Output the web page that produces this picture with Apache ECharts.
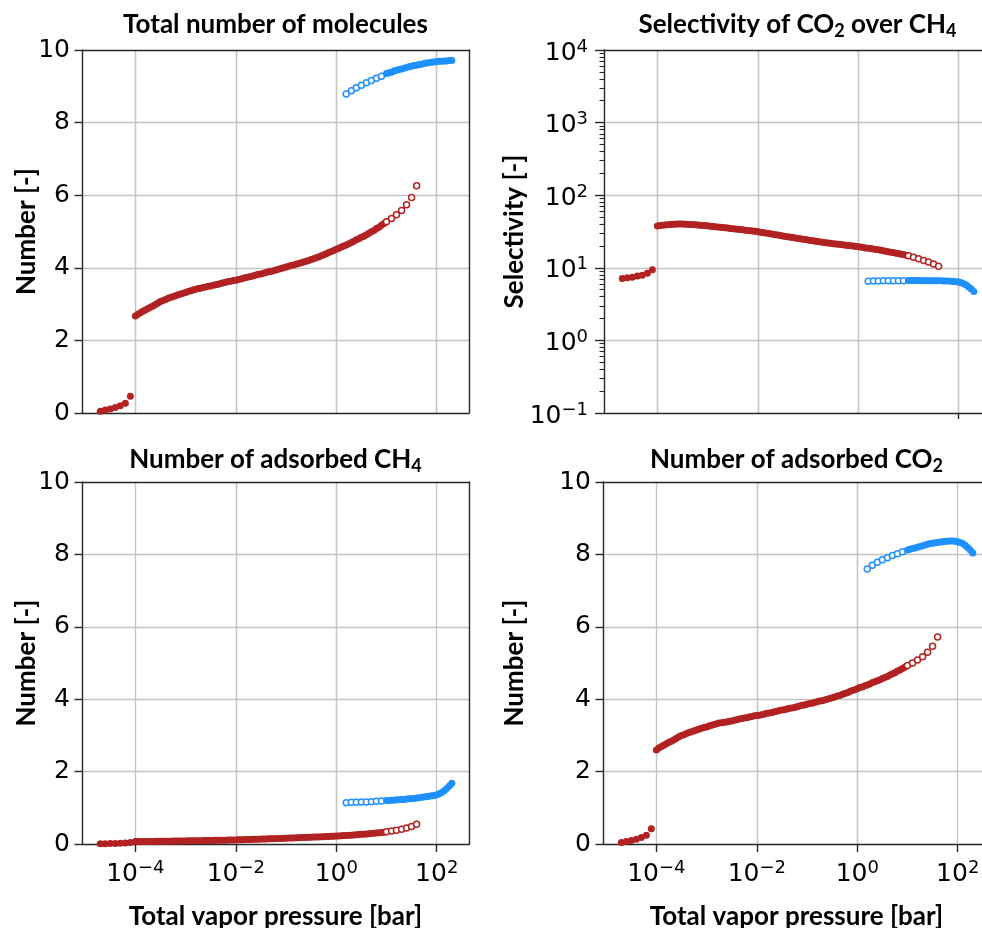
<!DOCTYPE html>
<html>
<head>
<meta charset="utf-8">
<script src="https://cdn.jsdelivr.net/npm/echarts@6/dist/echarts.min.js"></script>
<style>
  html, body { margin: 0; padding: 0; background: #fff; }
  #chart { width: 982px; height: 928px; }
</style>
</head>
<body>
<div id="chart"></div>
<script>
// ---------------- data ----------------
// Red branch: total vapor pressure [bar]
const redPressure = [
  2.00e-5, 2.51e-5, 3.16e-5, 3.98e-5, 5.01e-5, 6.31e-5, 7.94e-5,
  1.00e-4, 1.12e-4, 1.26e-4, 1.41e-4, 1.58e-4, 1.78e-4, 2.00e-4, 2.24e-4, 2.51e-4, 2.82e-4,
  3.16e-4, 3.55e-4, 3.98e-4, 4.47e-4, 5.01e-4, 5.62e-4, 6.31e-4, 7.08e-4, 7.94e-4, 8.91e-4,
  1.00e-3, 1.12e-3, 1.26e-3, 1.41e-3, 1.58e-3, 1.78e-3, 2.00e-3, 2.24e-3, 2.51e-3, 2.82e-3,
  3.16e-3, 3.55e-3, 3.98e-3, 4.47e-3, 5.01e-3, 5.62e-3, 6.31e-3, 7.08e-3, 7.94e-3, 8.91e-3,
  1.00e-2, 1.12e-2, 1.26e-2, 1.41e-2, 1.58e-2, 1.78e-2, 2.00e-2, 2.24e-2, 2.51e-2, 2.82e-2,
  3.16e-2, 3.55e-2, 3.98e-2, 4.47e-2, 5.01e-2, 5.62e-2, 6.31e-2, 7.08e-2, 7.94e-2, 8.91e-2,
  0.100, 0.112, 0.126, 0.141, 0.158, 0.178, 0.200, 0.224, 0.251, 0.282,
  0.316, 0.355, 0.398, 0.447, 0.501, 0.562, 0.631, 0.708, 0.794, 0.891,
  1.00, 1.12, 1.26, 1.41, 1.58, 1.78, 2.00, 2.24, 2.51, 2.82,
  3.16, 3.55, 3.98, 4.47, 5.01, 5.62, 6.31, 7.08, 7.94, 8.91,
  10.0, 12.6, 15.8, 20.0, 25.1, 31.6, 39.8
];
// red points from this index on are drawn as open circles
const redOpenFrom = 107;

const redTotal = [
  0.05, 0.08, 0.11, 0.15, 0.20, 0.27, 0.46,
  2.67, 2.72, 2.76, 2.80, 2.84, 2.88, 2.91, 2.95, 2.99, 3.03,
  3.07, 3.10, 3.13, 3.16, 3.18, 3.21, 3.23, 3.26, 3.28, 3.30,
  3.32, 3.35, 3.37, 3.39, 3.41, 3.43, 3.44, 3.46, 3.47, 3.49,
  3.50, 3.52, 3.53, 3.55, 3.57, 3.59, 3.60, 3.62, 3.63, 3.65,
  3.66, 3.68, 3.69, 3.71, 3.73, 3.75, 3.76, 3.78, 3.80, 3.82,
  3.83, 3.85, 3.87, 3.89, 3.90, 3.92, 3.94, 3.96, 3.98, 4.00,
  4.02, 4.04, 4.06, 4.08, 4.10, 4.12, 4.14, 4.16, 4.18, 4.20,
  4.23, 4.25, 4.28, 4.30, 4.33, 4.36, 4.39, 4.42, 4.45, 4.48,
  4.51, 4.54, 4.57, 4.60, 4.63, 4.66, 4.70, 4.73, 4.77, 4.80,
  4.84, 4.87, 4.91, 4.95, 4.99, 5.03, 5.08, 5.12, 5.17, 5.22,
  5.27, 5.36, 5.46, 5.58, 5.74, 5.94, 6.26
];
const redSelectivity = [
  7.1, 7.3, 7.4, 7.7, 7.9, 8.4, 9.4,
  37.6, 38.1, 38.5, 38.9, 39.3, 39.5, 39.7, 39.9, 40.0, 40.0,
  40.0, 39.9, 39.8, 39.6, 39.4, 39.2, 38.9, 38.7, 38.4, 38.1,
  37.8, 37.5, 37.2, 36.9, 36.6, 36.3, 35.9, 35.6, 35.2, 34.9,
  34.6, 34.3, 34.0, 33.6, 33.3, 33.0, 32.7, 32.4, 32.1, 31.8,
  31.5, 31.0, 30.6, 30.2, 29.8, 29.4, 29.0, 28.6, 28.2, 27.8,
  27.4, 27.0, 26.7, 26.4, 26.1, 25.7, 25.4, 25.1, 24.8, 24.5,
  24.2, 23.8, 23.5, 23.2, 23.0, 22.7, 22.4, 22.2, 22.0, 21.7,
  21.5, 21.3, 21.1, 20.9, 20.7, 20.5, 20.3, 20.1, 19.9, 19.7,
  19.5, 19.3, 19.1, 18.8, 18.6, 18.4, 18.2, 17.9, 17.7, 17.4,
  17.2, 16.9, 16.7, 16.4, 16.2, 15.9, 15.7, 15.4, 15.2, 14.9,
  14.6, 14.0, 13.3, 12.6, 12.0, 11.3, 10.5
];
const redCO2 = [
  0.04, 0.07, 0.10, 0.13, 0.18, 0.24, 0.42,
  2.60, 2.65, 2.69, 2.73, 2.77, 2.81, 2.84, 2.88, 2.92, 2.96,
  3.00, 3.02, 3.05, 3.08, 3.10, 3.13, 3.15, 3.18, 3.20, 3.22,
  3.23, 3.26, 3.28, 3.30, 3.32, 3.34, 3.35, 3.36, 3.37, 3.39,
  3.40, 3.42, 3.43, 3.45, 3.47, 3.48, 3.49, 3.51, 3.52, 3.54,
  3.55, 3.56, 3.57, 3.59, 3.61, 3.62, 3.63, 3.65, 3.67, 3.69,
  3.70, 3.71, 3.73, 3.75, 3.76, 3.77, 3.79, 3.81, 3.83, 3.84,
  3.86, 3.88, 3.89, 3.91, 3.93, 3.95, 3.96, 3.98, 4.00, 4.02,
  4.04, 4.06, 4.09, 4.10, 4.13, 4.16, 4.18, 4.21, 4.24, 4.26,
  4.29, 4.32, 4.34, 4.37, 4.39, 4.42, 4.46, 4.48, 4.51, 4.54,
  4.57, 4.60, 4.63, 4.67, 4.70, 4.73, 4.78, 4.81, 4.85, 4.89,
  4.93, 5.00, 5.08, 5.17, 5.30, 5.46, 5.72
];
const redCH4 = [
  0.006, 0.010, 0.013, 0.017, 0.023, 0.029, 0.044,
  0.069, 0.070, 0.070, 0.070, 0.071, 0.071, 0.072, 0.072, 0.073, 0.074,
  0.075, 0.076, 0.077, 0.078, 0.079, 0.080, 0.081, 0.082, 0.083, 0.084,
  0.086, 0.087, 0.088, 0.089, 0.091, 0.092, 0.093, 0.095, 0.096, 0.097,
  0.098, 0.100, 0.101, 0.103, 0.104, 0.106, 0.107, 0.108, 0.110, 0.111,
  0.113, 0.115, 0.117, 0.119, 0.121, 0.123, 0.125, 0.128, 0.130, 0.133,
  0.135, 0.138, 0.140, 0.142, 0.144, 0.147, 0.149, 0.152, 0.154, 0.157,
  0.160, 0.163, 0.166, 0.169, 0.171, 0.174, 0.177, 0.179, 0.182, 0.185,
  0.188, 0.191, 0.194, 0.196, 0.200, 0.203, 0.206, 0.210, 0.213, 0.216,
  0.220, 0.224, 0.227, 0.232, 0.236, 0.240, 0.245, 0.250, 0.255, 0.261,
  0.266, 0.272, 0.277, 0.285, 0.290, 0.298, 0.304, 0.312, 0.319, 0.328,
  0.338, 0.357, 0.382, 0.410, 0.442, 0.483, 0.544
];

// Blue branch: total vapor pressure [bar]
const bluePressure = [
  1.58, 2.00, 2.51, 3.16, 3.98, 5.01, 6.31, 7.94,
  10.0, 11.2, 12.6, 14.1, 15.8, 17.8, 20.0, 22.4, 25.1, 28.2,
  31.6, 35.5, 39.8, 44.7, 50.1, 56.2, 63.1, 70.8, 79.4, 89.1,
  100, 112, 126, 141, 158, 178, 200
];
// blue points before this index are drawn as open circles
const blueFilledFrom = 8;

const blueTotal = [
  8.79, 8.88, 8.96, 9.03, 9.10, 9.16, 9.22, 9.28,
  9.35, 9.37, 9.39, 9.42, 9.44, 9.46, 9.48, 9.50, 9.52, 9.54,
  9.55, 9.57, 9.58, 9.60, 9.61, 9.63, 9.64, 9.65, 9.66, 9.67,
  9.68, 9.69, 9.69, 9.70, 9.70, 9.71, 9.71
];
const blueSelectivity = [
  6.55, 6.58, 6.60, 6.62, 6.63, 6.64, 6.65, 6.65,
  6.66, 6.66, 6.66, 6.66, 6.66, 6.65, 6.65, 6.65, 6.65, 6.64,
  6.64, 6.63, 6.62, 6.61, 6.60, 6.58, 6.56, 6.53, 6.50, 6.44,
  6.35, 6.22, 6.05, 5.80, 5.45, 5.10, 4.70
];
const blueCO2 = [
  7.60, 7.70, 7.78, 7.85, 7.91, 7.97, 8.02, 8.07,
  8.12, 8.14, 8.16, 8.18, 8.20, 8.22, 8.24, 8.26, 8.28, 8.30,
  8.31, 8.32, 8.33, 8.34, 8.35, 8.36, 8.36, 8.37, 8.37, 8.36,
  8.35, 8.33, 8.30, 8.25, 8.19, 8.12, 8.04
];
const blueCH4 = [
  1.14, 1.15, 1.15, 1.16, 1.16, 1.17, 1.18, 1.19,
  1.20, 1.20, 1.21, 1.21, 1.22, 1.22, 1.23, 1.23, 1.24, 1.25,
  1.26, 1.26, 1.27, 1.28, 1.29, 1.30, 1.31, 1.32, 1.33, 1.34,
  1.36, 1.39, 1.42, 1.47, 1.53, 1.60, 1.68
];

// axis ticks
const pressureTickExponents = [-4, -2, 0, 2];
const selectivityBottomTick = [2];
const numberRange = [0, 10];
const selectivityRange = [0.1, 1e4];
const minorMantissas = [2, 3, 4, 5, 6, 7, 8, 9];

// ---------------- styling ----------------
const RED = '#b22222';
const BLUE = '#1e90ff';
const INK = '#000';
const SPINE = { color: '#262626', width: 1.4 };
const GRIDLINE = { color: '#c4c4c4', width: 1.3 };
const TICK_FONT = 'DejaVu Sans';
const TITLE_FONT = 'Lato';
// log10 of the pressure range shown on every x axis
const X_EXTENT = [-5.063, 2.643];

const grids = [
  { left: 82, top: 50, width: 387, height: 363 },
  { left: 604, top: 50, width: 387, height: 363 },
  { left: 82, top: 482, width: 387, height: 362 },
  { left: 603, top: 482, width: 387, height: 362 }
];

const supRich = {
  b: { fontFamily: TICK_FONT, fontSize: 25, color: INK, lineHeight: 30 },
  s: { fontFamily: TICK_FONT, fontSize: 18, color: INK, lineHeight: 16, verticalAlign: 'top' }
};
function powerLabel(exp) {
  const e = Math.round(exp);
  return '{b|10}{s|' + (e < 0 ? '\u2212' + (-e) : String(e)) + '}';
}

const nameStyle = { fontFamily: TITLE_FONT, fontWeight: 'bold', fontSize: 26, color: INK };

// ---------------- axes ----------------
const xAxes = [];
const yAxes = [];

function pressureAxis(gi, withLabels) {
  return {
    type: 'value', gridIndex: gi, position: 'bottom',
    min: X_EXTENT[0], max: X_EXTENT[1],
    axisLine: { show: true, onZero: false, lineStyle: SPINE },
    axisTick: withLabels
      ? { show: true, customValues: pressureTickExponents, length: 8, lineStyle: SPINE }
      : { show: false },
    axisLabel: withLabels ? {
      show: true, customValues: pressureTickExponents, formatter: powerLabel, rich: supRich, margin: 15
    } : { show: false },
    splitLine: { show: true, showMinLine: false, showMaxLine: false, lineStyle: GRIDLINE },
    name: withLabels ? 'Total vapor pressure [bar]' : '',
    nameLocation: 'middle', nameGap: 60, nameMoveOverlap: false, nameTextStyle: nameStyle,
    z: 0
  };
}
// top frame line; also carries the vertical grid lines
function spineX(gi) {
  return {
    type: 'value', gridIndex: gi, position: 'top',
    min: X_EXTENT[0], max: X_EXTENT[1],
    axisLine: { show: true, onZero: false, lineStyle: SPINE },
    axisTick: { show: false }, axisLabel: { show: false },
    splitLine: { show: true, showMinLine: false, showMaxLine: false, lineStyle: GRIDLINE },
    z: 0
  };
}
function spineY(gi) {
  return {
    type: 'value', gridIndex: gi, position: 'right', min: 0, max: 1,
    axisLine: { show: true, onZero: false, lineStyle: SPINE },
    axisTick: { show: false }, axisLabel: { show: false }, splitLine: { show: false }, z: 3
  };
}
function numberAxis(gi, nameGap) {
  return {
    type: 'value', gridIndex: gi, position: 'left',
    min: numberRange[0], max: numberRange[1], interval: 2,
    name: 'Number [-]', nameLocation: 'middle', nameGap, nameMoveOverlap: false, nameTextStyle: nameStyle,
    axisLine: { show: true, onZero: false, lineStyle: SPINE },
    axisTick: { show: true, length: 7.5, lineStyle: SPINE },
    axisLabel: { fontFamily: TICK_FONT, fontSize: 25, color: INK, margin: 12 },
    splitLine: { show: true, showMinLine: false, showMaxLine: false, lineStyle: GRIDLINE },
    z: 0
  };
}

// panel 0: total number
xAxes.push(pressureAxis(0, false), spineX(0));
yAxes.push(numberAxis(0, 42), spineY(0));
// panel 1: selectivity (log axis)
xAxes.push(pressureAxis(1, false), spineX(1));
yAxes.push({
  type: 'log', logBase: 10, gridIndex: 1, position: 'left',
  min: selectivityRange[0], max: selectivityRange[1],
  name: 'Selectivity [-]', nameLocation: 'middle', nameGap: 76, nameMoveOverlap: false, nameTextStyle: nameStyle,
  axisLine: { show: true, onZero: false, lineStyle: SPINE },
  axisTick: { show: true, length: 9, lineStyle: SPINE },
  axisLabel: {
    formatter: v => powerLabel(Math.log10(v)), rich: supRich, margin: 16, padding: [6, 0, 0, 0]
  },
  splitLine: { show: true, showMinLine: false, showMaxLine: false, lineStyle: GRIDLINE },
  z: 0
}, spineY(1));
// panel 2: adsorbed CH4
xAxes.push(pressureAxis(2, true), spineX(2));
yAxes.push(numberAxis(2, 42), spineY(2));
// panel 3: adsorbed CO2
xAxes.push(pressureAxis(3, true), spineX(3));
yAxes.push(numberAxis(3, 75), spineY(3));

// single bottom tick of the selectivity panel
xAxes.push({
  type: 'value', gridIndex: 1, position: 'bottom',
  min: X_EXTENT[0], max: X_EXTENT[1],
  axisLine: { show: false, onZero: false },
  axisTick: { show: true, customValues: selectivityBottomTick, length: 6, lineStyle: SPINE },
  axisLabel: { show: false }, splitLine: { show: false }, z: 1
});

// minor ticks of the selectivity axis (in log10 units)
const minorTicks = [];
for (let d = Math.log10(selectivityRange[0]); d < Math.log10(selectivityRange[1]); d++) {
  minorMantissas.forEach(m => minorTicks.push(Math.log10(m) + d));
}
yAxes.push({
  type: 'value', gridIndex: 1, position: 'left',
  min: Math.log10(selectivityRange[0]), max: Math.log10(selectivityRange[1]),
  axisLine: { show: false, onZero: false },
  axisTick: { show: true, customValues: minorTicks, length: 4.5, lineStyle: { color: '#262626', width: 1.1 } },
  axisLabel: { show: false }, splitLine: { show: false }, z: 1
});

// ---------------- series ----------------
function scatter(gi, pressure, values, from, to, color, open) {
  const data = [];
  for (let i = from; i < to; i++) data.push([Math.log10(pressure[i]), values[i]]);
  return {
    type: 'scatter', xAxisIndex: gi * 2, yAxisIndex: gi * 2,
    data, symbol: 'circle', symbolSize: open ? 6 : 7,
    itemStyle: open
      ? { color: '#ffffff', borderColor: color, borderWidth: 1.5, opacity: 1 }
      : { color, borderWidth: 0, opacity: 1 },
    silent: true, animation: false, z: 2
  };
}
function panelSeries(gi, redVals, blueVals) {
  return [
    scatter(gi, redPressure, redVals, 0, redOpenFrom, RED, false),
    scatter(gi, redPressure, redVals, redOpenFrom, redPressure.length, RED, true),
    scatter(gi, bluePressure, blueVals, 0, blueFilledFrom, BLUE, true),
    scatter(gi, bluePressure, blueVals, blueFilledFrom, bluePressure.length, BLUE, false)
  ];
}
const series = [].concat(
  panelSeries(0, redTotal, blueTotal),
  panelSeries(1, redSelectivity, blueSelectivity),
  panelSeries(2, redCH4, blueCH4),
  panelSeries(3, redCO2, blueCO2)
);

// ---------------- panel titles ----------------
const titles = [
  'Total number of molecules',
  'Selectivity of CO{sub|2} over CH{sub|4}',
  'Number of adsorbed CH{sub|4}',
  'Number of adsorbed CO{sub|2}'
];
const titleOffset = [25, 25, 22, 22];
const graphic = titles.map((t, i) => ({
  type: 'text',
  x: grids[i].left + grids[i].width / 2,
  y: grids[i].top - titleOffset[i],
  silent: true,
  style: {
    text: t,
    fontFamily: TITLE_FONT, fontWeight: 'bold', fontSize: 26, lineHeight: 30,
    fill: INK, align: 'center', verticalAlign: 'middle',
    rich: {
      sub: { fontFamily: TITLE_FONT, fontWeight: 'bold', fontSize: 18, lineHeight: 16, fill: INK, verticalAlign: 'bottom' }
    }
  }
}));

const chart = echarts.init(document.getElementById('chart'), null, { renderer: 'canvas' });
chart.setOption({
  animation: false,
  backgroundColor: '#ffffff',
  grid: grids.map(g => Object.assign({ containLabel: false, outerBoundsMode: 'none' }, g)),
  xAxis: xAxes,
  yAxis: yAxes,
  series,
  graphic
});
</script>
</body>
</html>
